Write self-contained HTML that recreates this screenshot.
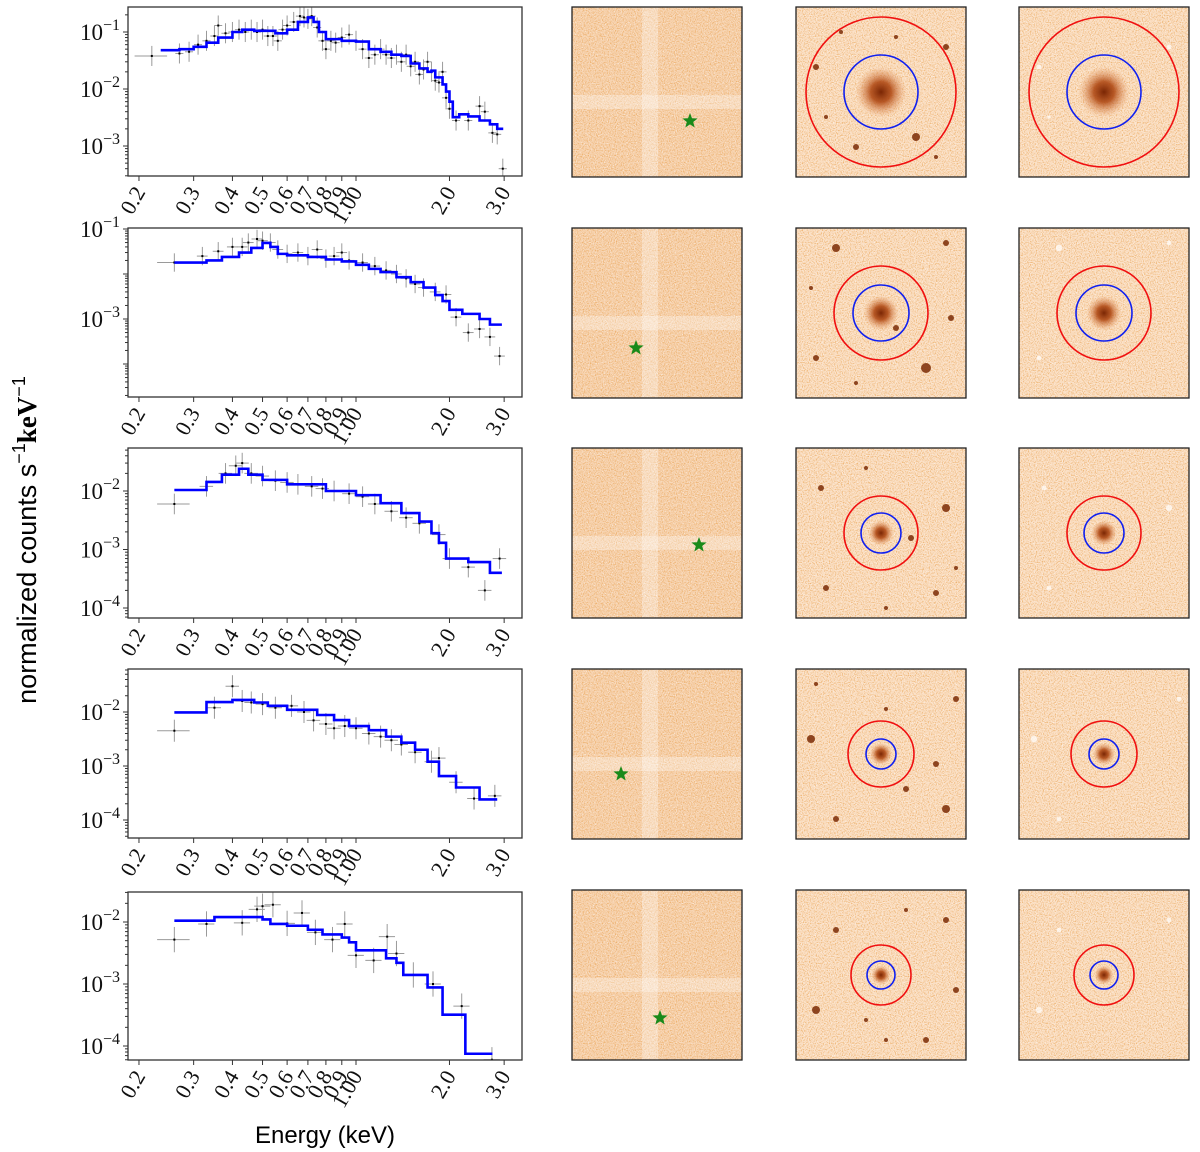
<!DOCTYPE html>
<html><head><meta charset="utf-8">
<style>
html,body{margin:0;padding:0;background:#fff;}
svg{display:block;font-family:"Liberation Serif",serif;}
</style></head>
<body>
<svg id="fig" width="1200" height="1152" viewBox="0 0 1200 1152" xmlns="http://www.w3.org/2000/svg">
<defs>
  <filter id="noise" x="0" y="0" width="100%" height="100%">
    <feTurbulence type="fractalNoise" baseFrequency="0.85" numOctaves="1" seed="3" result="t"/>
    <feColorMatrix type="matrix" values="0 0 0 0 0.80  0 0 0 0 0.36  0 0 0 0 0.08  0 0 0 3.2 -1.45"/>
  </filter>
  <filter id="noise2" x="0" y="0" width="100%" height="100%">
    <feTurbulence type="fractalNoise" baseFrequency="0.9" numOctaves="1" seed="11" result="t"/>
    <feColorMatrix type="matrix" values="0 0 0 0 1  0 0 0 0 1  0 0 0 0 1  0 0 0 4 -2.3"/>
  </filter>
  <radialGradient id="blob" cx="50%" cy="50%" r="50%">
    <stop offset="0%" stop-color="#7a2604" stop-opacity="1"/>
    <stop offset="40%" stop-color="#b04a15" stop-opacity="0.9"/>
    <stop offset="100%" stop-color="#e89a60" stop-opacity="0"/>
  </radialGradient>
</defs>
<text x="0" y="0" font-family="Liberation Sans, sans-serif" font-size="27" text-anchor="middle" transform="translate(36,540) rotate(-90)">normalized counts s<tspan dy="-11" font-size="18">−1</tspan><tspan dy="11" font-family="Liberation Serif, serif" font-weight="bold">keV</tspan><tspan dy="-11" font-size="18">−1</tspan></text>
<text x="325" y="1143" font-family="Liberation Sans, sans-serif" font-size="24" text-anchor="middle">Energy (keV)</text>
</svg>
<script>
// ---------- data ----------
const m1E=[0.235,0.27,0.3,0.33,0.36,0.4,0.43,0.47,0.5,0.55,0.6,0.65,0.7,0.73,0.76,0.8,0.9,1.0,1.1,1.2,1.3,1.4,1.5,1.6,1.7,1.75,1.8,1.9,1.95,2.0,2.05,2.15,2.3,2.5,2.7,2.85,2.98];
const m1V=[0.048,0.05,0.055,0.065,0.08,0.1,0.11,0.105,0.105,0.095,0.11,0.15,0.18,0.15,0.1,0.075,0.07,0.068,0.05,0.045,0.04,0.038,0.028,0.023,0.02,0.021,0.016,0.012,0.009,0.006,0.0032,0.0036,0.0033,0.0028,0.0024,0.002];
const d1E=[0.22,0.27,0.29,0.31,0.33,0.35,0.36,0.38,0.40,0.42,0.44,0.46,0.48,0.5,0.52,0.54,0.56,0.58,0.6,0.63,0.66,0.68,0.7,0.72,0.75,0.78,0.8,0.83,0.86,0.9,0.95,1.0,1.05,1.1,1.15,1.2,1.25,1.3,1.35,1.4,1.45,1.5,1.55,1.6,1.65,1.7,1.75,1.8,1.85,1.9,1.95,2.0,2.1,2.3,2.5,2.6,2.75,2.85,2.97];
const d1V=[0.038,0.042,0.045,0.06,0.07,0.085,0.13,0.095,0.1,0.11,0.1,0.11,0.1,0.11,0.085,0.085,0.07,0.11,0.13,0.15,0.19,0.18,0.17,0.19,0.12,0.07,0.05,0.07,0.065,0.08,0.09,0.07,0.05,0.035,0.04,0.05,0.04,0.035,0.04,0.03,0.04,0.025,0.03,0.018,0.022,0.03,0.02,0.014,0.013,0.02,0.007,0.0045,0.0028,0.0028,0.005,0.004,0.0017,0.0016,0.0004];

const m2E=[0.26,0.33,0.37,0.42,0.46,0.5,0.53,0.56,0.6,0.7,0.8,0.9,1.0,1.1,1.2,1.35,1.5,1.65,1.8,1.9,2.0,2.2,2.5,2.7,2.95];
const m2V=[0.018,0.02,0.024,0.03,0.038,0.049,0.04,0.028,0.026,0.024,0.021,0.019,0.016,0.013,0.011,0.0085,0.0066,0.005,0.0034,0.0025,0.0016,0.0013,0.001,0.00075];
const d2E=[0.26,0.32,0.36,0.4,0.43,0.45,0.48,0.5,0.53,0.56,0.6,0.65,0.7,0.75,0.8,0.85,0.9,0.95,1.05,1.15,1.25,1.35,1.45,1.55,1.65,1.8,1.95,2.1,2.3,2.5,2.7,2.9];
const d2V=[0.018,0.025,0.032,0.04,0.04,0.05,0.06,0.055,0.05,0.035,0.028,0.03,0.025,0.035,0.022,0.025,0.03,0.02,0.018,0.015,0.012,0.01,0.008,0.006,0.005,0.004,0.0035,0.0011,0.0005,0.0006,0.0004,0.00015];

const m3E=[0.26,0.33,0.37,0.42,0.45,0.5,0.6,0.8,1.0,1.2,1.4,1.6,1.75,1.85,1.95,2.3,2.7,2.95];
const m3V=[0.0104,0.0143,0.019,0.024,0.019,0.0155,0.013,0.01,0.0085,0.0062,0.0042,0.003,0.0019,0.0013,0.0007,0.00061,0.0004];
const d3E=[0.26,0.33,0.38,0.41,0.43,0.46,0.5,0.55,0.6,0.65,0.72,0.78,0.85,0.95,1.05,1.15,1.3,1.45,1.6,1.85,2.0,2.3,2.6,2.9];
const d3V=[0.006,0.012,0.02,0.027,0.03,0.02,0.018,0.015,0.014,0.013,0.012,0.011,0.01,0.009,0.008,0.006,0.0045,0.0035,0.0028,0.0018,0.0007,0.0005,0.0002,0.0007];

const m4E=[0.26,0.33,0.4,0.47,0.52,0.6,0.75,0.85,0.95,1.1,1.25,1.4,1.55,1.7,1.85,2.1,2.5,2.85];
const m4V=[0.0098,0.0153,0.0167,0.015,0.013,0.011,0.0088,0.0071,0.0055,0.0046,0.0035,0.0027,0.002,0.0012,0.00065,0.0004,0.00024];
const d4E=[0.26,0.35,0.4,0.43,0.46,0.5,0.55,0.62,0.68,0.73,0.8,0.85,0.92,1.0,1.1,1.2,1.3,1.4,1.55,1.75,1.85,2.1,2.4,2.8];
const d4V=[0.0045,0.012,0.03,0.016,0.015,0.014,0.012,0.013,0.01,0.007,0.006,0.005,0.0055,0.005,0.004,0.0035,0.003,0.0025,0.0018,0.0012,0.0014,0.0005,0.00025,0.00028];

const m5E=[0.26,0.35,0.5,0.53,0.6,0.7,0.78,0.9,0.95,1.0,1.25,1.35,1.42,1.7,1.9,2.25,2.75];
const m5V=[0.0105,0.012,0.011,0.0093,0.0087,0.0075,0.0063,0.0056,0.0047,0.0035,0.0026,0.0022,0.0014,0.00088,0.00032,0.000075];
const d5E=[0.26,0.33,0.43,0.48,0.5,0.54,0.6,0.67,0.74,0.84,0.92,1.0,1.14,1.26,1.35,1.53,1.77,2.19,2.74];
const d5V=[0.0052,0.0093,0.0097,0.016,0.018,0.019,0.0095,0.014,0.0068,0.0052,0.0093,0.0029,0.0024,0.0058,0.0031,0.0014,0.001,0.00044,0.00006];

const xTicks=[0.2,0.3,0.4,0.5,0.6,0.7,0.8,0.9,1.0,2.0,3.0];
const xTickLabels=["0.2","0.3","0.4","0.5","0.6","0.7","0.8","0.9","1.00","2.0","3.0"];

// ---------- layout ----------
const NS="http://www.w3.org/2000/svg";
const svg=document.getElementById('fig');
function mk(tag,attrs,parent){const e=document.createElementNS(NS,tag);for(const k in attrs)e.setAttribute(k,attrs[k]);(parent||svg).appendChild(e);return e;}
const X0=128,X1=522;
function xs(E){return 356+Math.log10(E)*310.5;}
const panels=[
 {y0:7,y1:176,dRef:-1,yRef:32,ppd:57,yt:[-1,-2,-3],mE:m1E,mV:m1V,dE:d1E,dV:d1V,xw:0.03,ye:1.5},
 {y0:228,y1:397,dRef:-1,yRef:229,ppd:45,yt:[-1,-3],mE:m2E,mV:m2V,dE:d2E,dV:d2V,xw:0.04,ye:1.6},
 {y0:448,y1:618,dRef:-2,yRef:491,ppd:58.5,yt:[-2,-3,-4],mE:m3E,mV:m3V,dE:d3E,dV:d3V,xw:0.05,ye:1.5},
 {y0:669,y1:838,dRef:-2,yRef:712,ppd:54,yt:[-2,-3,-4],mE:m4E,mV:m4V,dE:d4E,dV:d4V,xw:0.05,ye:1.6},
 {y0:892,y1:1060,dRef:-2,yRef:922,ppd:62,yt:[-2,-3,-4],mE:m5E,mV:m5V,dE:d5E,dV:d5V,xw:0.06,ye:1.6}
];
panels.forEach((p,pi)=>{
  const g=mk('g',{});
  
  
  const ys=v=>p.yRef-(Math.log10(v)-p.dRef)*p.ppd;
  const clipId='clip'+pi;
  const cp=mk('clipPath',{id:clipId},g);mk('rect',{x:X0,y:p.y0,width:X1-X0,height:p.y1-p.y0},cp);
  const plot=mk('g',{'clip-path':'url(#'+clipId+')'},g);
  p.dE.forEach((E,i)=>{
    const v=p.dV[i];const w=(i===0?0.12:p.xw);
    const x=xs(E),y=ys(v);
    const eb=mk('g',{},plot);
    
    
    mk('line',{x1:xs(E*(1-w)),x2:xs(E*(1+w)),y1:y,y2:y,stroke:'#9a9a9a','stroke-width':1},eb);
    mk('line',{x1:x,x2:x,y1:ys(v/p.ye),y2:ys(v*p.ye),stroke:'#9a9a9a','stroke-width':1},eb);
    mk('rect',{x:x-1,y:y-1,width:2,height:2,fill:'#000'},eb);
  });
  let d='';
  for(let i=0;i<p.mV.length;i++){
    const xa=xs(p.mE[i]),xb=xs(p.mE[i+1]),y=ys(p.mV[i]);
    d+=(i===0?'M'+xa+','+y:'L'+xa+','+y)+'L'+xb+','+y;
  }
  const ml=mk('path',{d:d,fill:'none',stroke:'#0000ff','stroke-width':2.6,'stroke-linejoin':'miter'},plot);
  
  
  const fr=mk('rect',{x:X0,y:p.y0,width:X1-X0,height:p.y1-p.y0,fill:'none',stroke:'#333','stroke-width':1.3},g);
  
  
  for(let dec=-6;dec<=1;dec++){
    for(let m=1;m<10;m++){
      const y=p.yRef-(dec+Math.log10(m)-p.dRef)*p.ppd;
      if(y<p.y0||y>p.y1)continue;
      mk('line',{x1:X0-(m===1?5:3),x2:X0,y1:y,y2:y,stroke:'#333','stroke-width':1},g);
    }
  }
  p.yt.forEach(dec=>{
    const y=p.yRef-(dec-p.dRef)*p.ppd;
    const t=mk('text',{x:X0-8,y:y+8,'font-size':23,'text-anchor':'end',fill:'#111'},g);
    
    
    t.innerHTML='10<tspan dy="-10" font-size="16">−'+(-dec)+'</tspan>';
  });
  xTicks.forEach((E,i)=>{
    const x=xs(E);
    mk('line',{x1:x,x2:x,y1:p.y1,y2:p.y1+5,stroke:'#333','stroke-width':1},g);
    const t=mk('text',{x:0,y:0,'font-size':22,'text-anchor':'end',fill:'#111',transform:'translate('+(x+7)+','+(p.y1+16)+') rotate(-60)'},g);
    
    
    t.textContent=xTickLabels[i];
  });
});

// ---------- image panels ----------
const rowsY=[7,228,448,669,890];
const colsX=[572,796,1019];
const starPos=[[118,114],[64,120],[127,97],[49,105],[88,128]];
const circ=[[37,75,16],[28,47,11],[20,37,8],[15,33,7],[14,30,6]];
const spots=[
 [[20,60,3],[30,110,2],[150,40,3],[120,130,4],[60,140,3],[140,150,2],[100,30,2],[45,25,2]],
 [[40,20,4],[150,15,3],[20,130,3],[130,140,5],[60,155,2],[100,100,3],[155,90,3],[15,60,2]],
 [[25,40,3],[150,60,4],[30,140,3],[140,145,3],[90,160,2],[160,120,2],[70,20,2],[115,90,3]],
 [[15,70,4],[160,30,3],[40,150,3],[150,140,4],[110,120,3],[20,15,2],[90,40,2],[140,95,3]],
 [[40,40,3],[150,30,3],[20,120,4],[130,150,3],[90,150,2],[160,100,3],[70,130,2],[110,20,2]]
];
rowsY.forEach((ry,r)=>{
  colsX.forEach((cx,c)=>{
    const g=mk('g',{});
    
    
    const W=170,H=170;
    mk('rect',{x:cx,y:ry,width:W,height:H,fill:c===0?'#f7d3b0':'#fbe0c6'},g);
    mk('rect',{x:cx,y:ry,width:W,height:H,filter:'url(#noise)',opacity:0.75},g);
    mk('rect',{x:cx,y:ry,width:W,height:H,filter:'url(#noise2)',opacity:0.8},g);
    if(c===0){
      mk('rect',{x:cx+70,y:ry,width:16,height:H,fill:'#fff',opacity:0.3},g);
      mk('rect',{x:cx,y:ry+88,width:W,height:14,fill:'#fff',opacity:0.3},g);
      const [sx,sy]=starPos[r];
      const R=8,pts=[];
      for(let k=0;k<10;k++){const a=-Math.PI/2+k*Math.PI/5;const rr=k%2?R*0.42:R;pts.push((cx+sx+rr*Math.cos(a)).toFixed(1)+','+(ry+sy+rr*Math.sin(a)).toFixed(1));}
      const st=mk('polygon',{points:pts.join(' '),fill:'#1a8a1a'},g);
      
      
    } else {
      if(c===1) spots[r].forEach(s=>mk('circle',{cx:cx+s[0],cy:ry+s[1],r:s[2],fill:'#7a2a05',opacity:0.85},g));
      else spots[r].slice(0,3).forEach(s=>mk('circle',{cx:cx+s[0],cy:ry+s[1],r:s[2]*0.8,fill:'#fff',opacity:0.7},g));
      const ccx=cx+85,ccy=ry+85;const [rb,rr,rs]=circ[r];
      mk('circle',{cx:ccx,cy:ccy,r:rs*1.6,fill:'url(#blob)'},g);
      const red=mk('circle',{cx:ccx,cy:ccy,r:rr,fill:'none',stroke:'#f01010','stroke-width':1.6},g);
      
      
      const blue=mk('circle',{cx:ccx,cy:ccy,r:rb,fill:'none',stroke:'#1020f0','stroke-width':1.6},g);
      
      
    }
    mk('rect',{x:cx,y:ry,width:W,height:H,fill:'none',stroke:'#222','stroke-width':1.3},g);
  });
});
</script>
</body></html>
